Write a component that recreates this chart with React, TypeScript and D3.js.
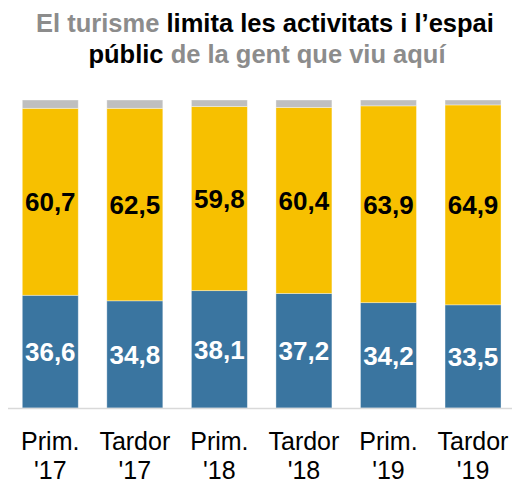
import React from "react";
import * as d3 from "d3";

const categories = ["Prim. '17", "Tardor '17", "Prim. '18", "Tardor '18", "Prim. '19", "Tardor '19"];
const categoryLines = [["Prim.", "'17"], ["Tardor", "'17"], ["Prim.", "'18"], ["Tardor", "'18"], ["Prim.", "'19"], ["Tardor", "'19"]];
const limita = [36.6, 34.8, 38.1, 37.2, 34.2, 33.5];
const noLimita = [60.7, 62.5, 59.8, 60.4, 63.9, 64.9];
const nsnc = [2.7, 2.7, 2.1, 2.4, 1.9, 1.6];
const seriesKeys = ["limita", "noLimita", "nsnc"];
const seriesColors = ["#3a75a0", "#f7c000", "#bfbfbf"];
const labelColors = ["#ffffff", "#000000", null];

const W = 512;
const H = 480;

export default function App() {
  const rows = categories.map((c, i) => ({ cat: c, limita: limita[i], noLimita: noLimita[i], nsnc: nsnc[i] }));
  const stack = d3.stack<any>().keys(seriesKeys)(rows);
  const x = d3.scaleBand<string>().domain(categories).range([8, 515.3]).paddingInner(0.338).paddingOuter(0.169);
  const y = d3.scaleLinear().domain([0, 100]).range([408, 100]);
  const font = "'Liberation Sans', Arial, sans-serif";

  return (
    <svg width={W} height={H} style={{ position: "absolute", left: 0, top: 0 }} fontFamily={font}>
      <text x={265} y={32} textAnchor="middle" fontSize={25.5} fontWeight="bold">
        <tspan fill="#8c8c8c">El turisme </tspan>
        <tspan fill="#000">limita les activitats i l’espai</tspan>
      </text>
      <text x={267} y={63} textAnchor="middle" fontSize={25.5} fontWeight="bold">
        <tspan fill="#000">públic </tspan>
        <tspan fill="#8c8c8c">de la gent que viu aquí</tspan>
      </text>
      {stack.map((s, si) => (
        <g key={seriesKeys[si]}>
          {s.map((d, i) => (
            <rect
              key={i}
              x={x(categories[i])}
              y={y(d[1])}
              width={x.bandwidth()}
              height={y(d[0]) - y(d[1])}
              fill={seriesColors[si]}
              stroke="#ffffff"
              strokeOpacity={0.45}
              strokeWidth={0.8}
            />
          ))}
        </g>
      ))}
      <line x1={8} x2={512} y1={408.5} y2={408.5} stroke="#d9d9d9" strokeWidth={1.5} />
      {stack.map((s, si) =>
        labelColors[si]
          ? s.map((d, i) => (
              <text
                key={`${si}-${i}`}
                x={(x(categories[i]) as number) + x.bandwidth() / 2}
                y={(y(d[0]) + y(d[1])) / 2}
                dy="0.36em"
                textAnchor="middle"
                fontSize={26}
                fontWeight="bold"
                fill={labelColors[si] as string}
              >
                {d3.format(".1f")(d[1] - d[0]).replace(".", ",")}
              </text>
            ))
          : null
      )}
      {categoryLines.map((lines, i) => (
        <text
          key={i}
          x={(x(categories[i]) as number) + x.bandwidth() / 2}
          y={450}
          textAnchor="middle"
          fontSize={25}
          fill="#000"
        >
          <tspan x={(x(categories[i]) as number) + x.bandwidth() / 2} dy={0}>{lines[0]}</tspan>
          <tspan x={(x(categories[i]) as number) + x.bandwidth() / 2} dy={29}>{lines[1]}</tspan>
        </text>
      ))}
    </svg>
  );
}
